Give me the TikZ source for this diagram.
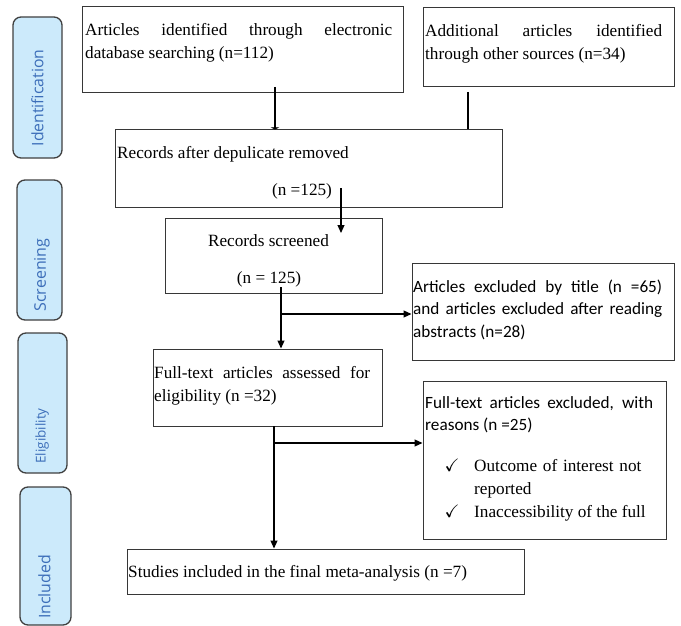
\documentclass[tikz,border=0pt]{standalone}
\usepackage{fontspec}
\usepackage{amssymb}
\setmainfont{Liberation Serif}
\newfontfamily\calibri{Carlito}
\newfontfamily\stagefont{Open Sans}
\usetikzlibrary{arrows.meta}
\definecolor{stagefill}{RGB}{204,234,251}
\definecolor{stageline}{RGB}{64,64,64}
\definecolor{stagetext}{RGB}{60,110,185}
\definecolor{boxline}{RGB}{55,55,55}
\tolerance=10000
\hyphenpenalty=10000

\begin{document}
\begin{tikzpicture}[x=1pt, y=-1pt,
  font=\fontsize{17.2}{23}\selectfont,
  box/.style={draw=boxline, line width=1pt, inner sep=0pt},
  stage/.style={draw=stageline, fill=stagefill, line width=1.3pt, rounded corners=8pt, inner sep=0pt},
  stagelbl/.style={rotate=90, text=stagetext, inner sep=0pt},
  txt/.style={anchor=north west, inner sep=0pt, align=justify},
  sanstxt/.style={txt, font=\calibri\fontsize{17.2}{22.5}\selectfont},
  tick/.style={anchor=base, inner sep=0pt, font=\fontsize{18}{20}\selectfont},
  line/.style={line width=1.2pt},
  arr/.style={line, -{Triangle[length=8pt,width=7pt]}}]
\useasboundingbox (0,0) rectangle (681,626);

% stages on the left
\node[stage, minimum width=49pt, minimum height=141pt] (ident) at (37.5,87.5) {};
\node[stagelbl, font=\stagefont\fontsize{15.8}{18}\selectfont] (identlbl) at (37.5,98) {Identification};
\node[stage, minimum width=45pt, minimum height=140pt] (scr) at (39.5,250) {};
\node[stagelbl, font=\stagefont\fontsize{16}{18}\selectfont] (scrlbl) at (42,275) {Screening};
\node[stage, minimum width=49pt, minimum height=140pt] (elig) at (42.5,403) {};
\node[stagelbl, font=\stagefont\fontsize{13.5}{16}\selectfont] (eliglbl) at (42,436) {Eligibility};
\node[stage, minimum width=51pt, minimum height=138pt] (inc) at (45.5,556) {};
\node[stagelbl, font=\stagefont\fontsize{15.9}{18}\selectfont] (inclbl) at (44.5,587) {Included};

% boxes
\node[box, minimum width=321pt, minimum height=86pt] (db) at (242.5,50) {};
\node[txt, text width=307pt] (dbtxt) at (85,18.9) {\strut Articles identified through electronic \linebreak database searching (n=112)};
\node[box, minimum width=251pt, minimum height=79pt] (other) at (548.5,47.5) {};
\node[txt, text width=237pt] (othertxt) at (425,19.9) {\strut Additional articles identified \linebreak through other sources (n=34)};

\node[box, minimum width=387pt, minimum height=77pt] (dup) at (308.5,168.5) {};
\node[anchor=base west, inner sep=0pt] (duptxt) at (117,158) {Records after depulicate removed};
\node[anchor=base, inner sep=0pt] (dupn) at (302,195) {(n =125)};

\node[box, minimum width=217pt, minimum height=75pt] (screen) at (273.5,255.5) {};
\node[anchor=base, inner sep=0pt] (screentxt) at (268.5,246) {Records screened};
\node[anchor=base, inner sep=0pt] (screenn) at (269,283) {(n = 125)};

\node[box, minimum width=262pt, minimum height=97pt] (exctitle) at (543,311.5) {};
\node[sanstxt, text width=249pt] (exctitletxt) at (413,276.3) {\strut Articles excluded by title (n =65) \linebreak and articles excluded after reading \linebreak abstracts (n=28)};

\node[box, minimum width=229pt, minimum height=77pt] (full) at (267.5,387.5) {};
\node[txt, text width=216pt] (fulltxt) at (154,361.9) {\strut Full-text articles assessed for \linebreak eligibility (n =32)};

\node[box, minimum width=243pt, minimum height=158pt] (excfull) at (544.5,460) {};
\node[sanstxt, text width=228pt] (excfulltxt) at (425,392.3) {\strut Full-text articles excluded, with \linebreak reasons (n =25)};
\node[tick] (tick1) at (452,471) {$\checkmark$};
\node[txt, align=left, text width=185pt] (reason1) at (474,454.9) {\strut Outcome of interest not reported};
\node[tick] (tick2) at (452,517) {$\checkmark$};
\node[anchor=base west, inner sep=0pt] (reason2) at (474,517) {Inaccessibility of the full};

\node[box, minimum width=397pt, minimum height=45pt] (incl) at (325.5,571.5) {};
\node[anchor=base west, inner sep=0pt] (incltxt) at (128,577) {Studies included in the final meta-analysis (n =7)};

% connectors
\coordinate (dbout) at (275,87);
\draw[line, -{Triangle[length=2pt,width=8pt]}] (dbout) -- (dbout |- dup.north);
\coordinate (otherout) at (468,92);
\draw[line] (otherout) -- (otherout |- dup.north);
\coordinate (dupout) at (341,188);
\coordinate (screenin) at (341,233);
\draw[arr] (dupout) -- (screenin);
\coordinate (screenout) at (281,287);
\draw[arr] (screenout) -- (screenout |- full.north);
\coordinate (split1) at (281,314);
\draw[arr] (split1) -- (split1 -| exctitle.west);
\coordinate (fullout) at (274,426);
\draw[arr] (fullout) -- (fullout |- incl.north);
\coordinate (split2) at (274,443);
\draw[arr] (split2) -- (split2 -| excfull.west);
\end{tikzpicture}
\end{document}
